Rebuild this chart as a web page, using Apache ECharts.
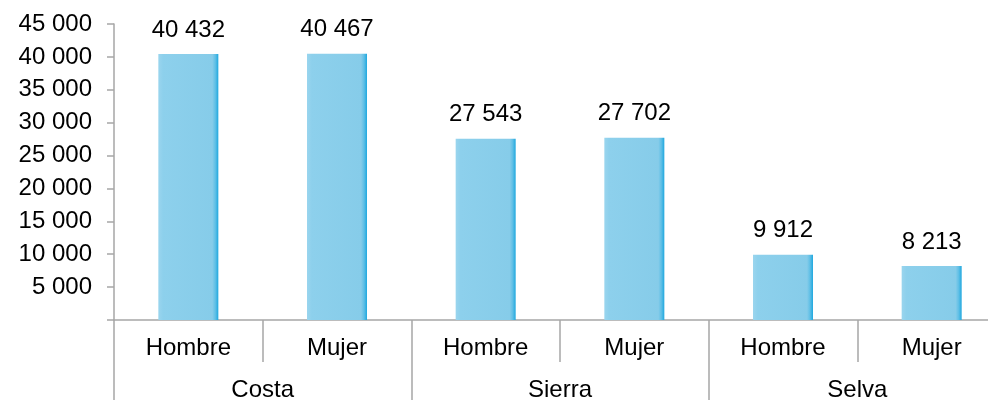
<!DOCTYPE html>
<html>
<head>
<meta charset="utf-8">
<script src="https://cdn.jsdelivr.net/npm/echarts@6/dist/echarts.min.js"></script>
<style>
html, body { margin: 0; padding: 0; background: #ffffff; }
#main { width: 988px; height: 400px; }
</style>
</head>
<body>
<div id="main"></div>
<script>
// datos
var regiones = ['Costa', 'Sierra', 'Selva'];
var sexos = ['Hombre', 'Mujer'];
var hombre = [40432, 27543, 9912];
var mujer = [40467, 27702, 8213];
var yTicks = [0, 5000, 10000, 15000, 20000, 25000, 30000, 35000, 40000, 45000];

var categorias = [];
var valores = [];
for (var i = 0; i < regiones.length; i++) {
	categorias.push(sexos[0], sexos[1]);
	valores.push(hombre[i], mujer[i]);
}

function miles(v) {
	return String(v).replace(/\B(?=(\d{3})+(?!\d))/g, ' ');
}

var gris = '#a6a6a6';
var fuente = 'Liberation Sans, Arial, sans-serif';

var chart = echarts.init(document.getElementById('main'));
var option = {
	backgroundColor: '#ffffff',
	animation: false,
	grid: {
		left: 114,
		width: 892,  // el gráfico original queda cortado a la derecha
		top: 24,
		bottom: 80,
		containLabel: false,
		outerBoundsMode: 'none'
	},
	xAxis: [
		{
			type: 'category',
			data: categorias,
			axisLine: {show: true, lineStyle: {color: gris, width: 1.5}},
			axisTick: {show: true, alignWithLabel: false, length: 42, lineStyle: {color: gris, width: 1.5}},
			axisLabel: {interval: 0, margin: 16, fontSize: 24, color: '#000', fontFamily: fuente}
		},
		{
			type: 'category',
			data: regiones,
			position: 'bottom',
			axisLine: {show: false},
			axisTick: {show: true, alignWithLabel: false, length: 80, lineStyle: {color: gris, width: 1.5}},
			axisLabel: {interval: 0, margin: 58, fontSize: 24, color: '#000', fontFamily: fuente}
		}
	],
	yAxis: {
		type: 'value',
		min: yTicks[0],
		max: yTicks[yTicks.length - 1],
		interval: 5000,
		splitLine: {show: false},
		axisLine: {show: true, lineStyle: {color: gris, width: 1.5}},
		axisTick: {show: true, length: 7, lineStyle: {color: gris, width: 1.5}},
		axisLabel: {
			margin: 22, fontSize: 24, color: '#000', fontFamily: fuente,
			formatter: function (v) { return v === 0 ? '' : miles(v); }
		}
	},
	series: [
		{
			type: 'bar',
			xAxisIndex: 0,
			barWidth: 60,
			data: valores,
			itemStyle: {
				color: new echarts.graphic.LinearGradient(0, 0, 1, 0, [
					{offset: 0, color: '#9ad5ee'},
					{offset: 0.08, color: '#8dd0ec'},
					{offset: 0.9, color: '#86cce9'},
					{offset: 0.95, color: '#5fbfe6'},
					{offset: 1, color: '#1fa8df'}
				])
			},
			label: {
				show: true,
				position: 'top',
				distance: 12,
				fontSize: 24,
				color: '#000',
				fontFamily: fuente,
				formatter: function (p) { return miles(p.value); }
			}
		}
	]
};
chart.setOption(option);
</script>
</body>
</html>
